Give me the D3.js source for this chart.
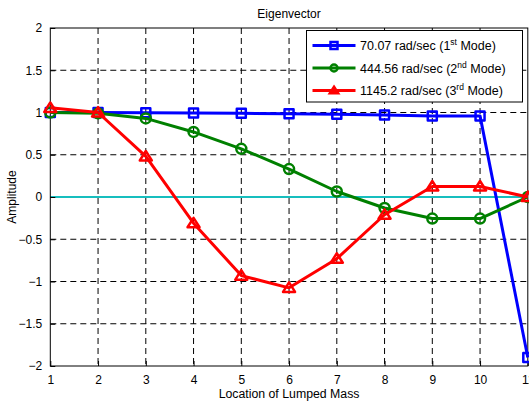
<!doctype html>
<html lang="en">
  <head>
    <meta charset="utf-8">
    <title>Eigenvector</title>
    <script src="https://d3js.org/d3.v7.min.js"></script>
    <style>
      body { margin: 0; background: #fff; }
      svg { display: block; font-family: "Liberation Sans", Arial, sans-serif; }
    </style>
  </head>

  <body>
    <svg width="529" height="403"></svg>

    <script>
      var svg = d3.select('svg');

      // mode shapes, one value per lumped mass
      var masses = [1, 2, 3, 4, 5, 6, 7, 8, 9, 10, 11];
      var mode1 = [1.0, 1.0, 0.998, 0.993, 0.99, 0.985, 0.98, 0.97, 0.96, 0.96, -1.9];
      var mode2 = [1.0, 0.99, 0.93, 0.77, 0.57, 0.33, 0.065, -0.13, -0.255, -0.255, 0.0];
      var mode3 = [1.055, 1.0, 0.48, -0.31, -0.93, -1.075, -0.73, -0.21, 0.125, 0.125, 0.0];

      var modeFreqs = ['70.07', '444.56', '1145.2'];
      var modeOrd = ['st', 'nd', 'rd'];
      var modeColors = ['#0000ff', '#008000', '#ff0000'];
      var modeMarkers = ['square', 'circle', 'triangle'];

      var xTicks = [1, 2, 3, 4, 5, 6, 7, 8, 9, 10, 11];
      var yTicks = [-2, -1.5, -1, -0.5, 0, 0.5, 1, 1.5, 2];

      var axL = 50.3, axR = 527.8, axT = 28, axB = 366;

      var x = d3.scaleLinear().domain([1, 11]).range([axL, axR]);
      var y = d3.scaleLinear().domain([-2, 2]).range([axB, axT]);

      // grid
      var grid = svg.append('g')
          .attr('stroke', '#000')
          .attr('stroke-width', 1)
          .attr('stroke-dasharray', '6,4');

      grid.selectAll('.gx').data(xTicks.slice(1, -1)).enter()
        .append('line')
          .attr('x1', function(d){ return x(d); })
          .attr('x2', function(d){ return x(d); })
          .attr('y1', axT)
          .attr('y2', axB);

      grid.selectAll('.gy').data(yTicks.slice(1, -1)).enter()
        .append('line')
          .attr('x1', axL)
          .attr('x2', axR)
          .attr('y1', function(d){ return y(d); })
          .attr('y2', function(d){ return y(d); });

      // zero reference
      svg.append('line')
          .attr('x1', axL)
          .attr('x2', axR)
          .attr('y1', y(0))
          .attr('y2', y(0))
          .attr('stroke', '#17bebe')
          .attr('stroke-width', 2);

      // axes box
      svg.append('rect')
          .attr('x', axL)
          .attr('y', axT)
          .attr('width', axR - axL)
          .attr('height', axB - axT)
          .attr('fill', 'none')
          .attr('stroke', '#000')
          .attr('stroke-width', 1);

      var xAxis = d3.axisBottom(x).tickValues(xTicks).tickSize(-5).tickPadding(9)
          .tickFormat(d3.format('d'));
      var yAxis = d3.axisLeft(y).tickValues(yTicks).tickSize(-5).tickPadding(8)
          .tickFormat(function(d){ return d3.format('~g')(d); });

      svg.append('g')
          .attr('transform', 'translate(0,' + axB + ')')
          .call(xAxis)
          .call(function(g){ g.select('.domain').remove(); });

      svg.append('g')
          .attr('transform', 'translate(' + axL + ',0)')
          .call(yAxis)
          .call(function(g){ g.select('.domain').remove(); });

      svg.selectAll('.tick text')
          .attr('font-family', '"Liberation Sans", Arial, sans-serif')
          .attr('font-size', 12)
          .attr('fill', '#000');

      // labels
      svg.append('text')
          .attr('x', (axL + axR) / 2)
          .attr('y', 18)
          .attr('text-anchor', 'middle')
          .attr('font-size', 12)
          .text('Eigenvector');

      svg.append('text')
          .attr('x', (axL + axR) / 2)
          .attr('y', 398)
          .attr('text-anchor', 'middle')
          .attr('font-size', 12.3)
          .text('Location of Lumped Mass');

      svg.append('text')
          .attr('transform', 'translate(16,' + y(0) + ') rotate(-90)')
          .attr('text-anchor', 'middle')
          .attr('font-size', 12)
          .text('Amplitude');

      var drawMarker = function(sel, kind, size){
        if (kind === 'square') {
          sel.append('rect')
              .attr('x', -size / 2)
              .attr('y', -size / 2)
              .attr('width', size)
              .attr('height', size);
        } else if (kind === 'circle') {
          sel.append('circle').attr('r', size / 2);
        } else {
          var h = size * 0.9;
          sel.append('path')
              .attr('d', 'M 0 ' + (-h * 0.6) + ' L ' + (size * 0.6) + ' ' + (h * 0.45) +
                    ' L ' + (-size * 0.6) + ' ' + (h * 0.45) + ' Z');
        }
      };

      var series = [mode1, mode2, mode3];
      var line = d3.line()
          .x(function(d, i){ return x(masses[i]); })
          .y(function(d){ return y(d); });

      series.forEach(function(vals, k){
        var g = svg.append('g')
            .attr('stroke', modeColors[k])
            .attr('fill', 'none')
            .attr('stroke-width', 3)
            .attr('stroke-linejoin', 'round');

        g.append('path').attr('d', line(vals));

        g.selectAll('g.m').data(vals).enter()
          .append('g')
            .attr('transform', function(d, i){ return 'translate(' + x(masses[i]) + ',' + y(d) + ')'; })
            .attr('stroke-width', 2.5)
            .each(function(){ drawMarker(d3.select(this), modeMarkers[k], k === 0 ? 9 : 10); });
      });

      // legend
      var lg = svg.append('g').attr('transform', 'translate(306.5,30.5)');
      lg.append('rect')
          .attr('width', 216)
          .attr('height', 71.5)
          .attr('fill', '#fff')
          .attr('stroke', '#000')
          .attr('stroke-width', 1);

      modeFreqs.forEach(function(f, k){
        var ry = 15 + k * 22.5;
        var row = lg.append('g')
            .attr('stroke', modeColors[k])
            .attr('fill', 'none');
        row.append('line')
            .attr('x1', 6).attr('x2', 49)
            .attr('y1', ry).attr('y2', ry)
            .attr('stroke-width', 3);
        var mk = row.append('g')
            .attr('transform', 'translate(27.5,' + ry + ')')
            .attr('stroke-width', 2.5);
        drawMarker(mk, modeMarkers[k], 7);

        var t = lg.append('text')
            .attr('x', 53.5)
            .attr('y', ry + 4.5)
            .attr('font-size', 12.5)
            .attr('fill', '#000');
        t.append('tspan').text(f + ' rad/sec (' + (k + 1));
        t.append('tspan').attr('dy', -5).attr('font-size', 8.5).text(modeOrd[k]);
        t.append('tspan').attr('dy', 5).text(' Mode)');
      });
    </script>
  </body>
</html>
